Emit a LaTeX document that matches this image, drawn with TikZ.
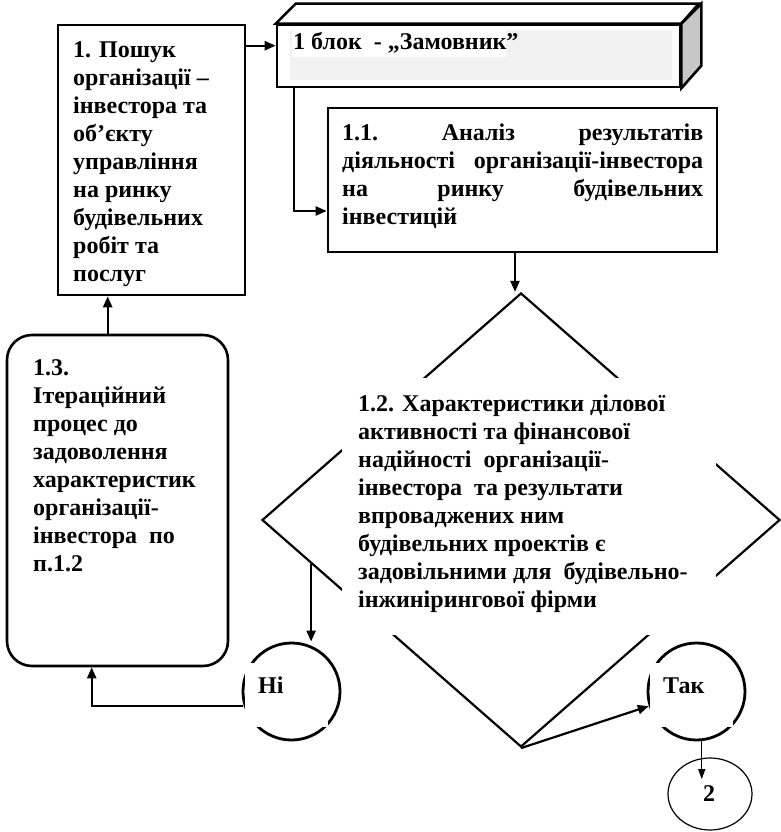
\documentclass[tikz,border=0pt]{standalone}
\usepackage{fontspec}
\setmainfont{Liberation Serif}
\usetikzlibrary{arrows.meta,shapes.geometric,calc}
\begin{document}
\begin{tikzpicture}[x=1pt,y=-1pt,
  txt/.style={anchor=north west,inner sep=0pt,align=left,font=\fontsize{24}{28}\selectfont\bfseries},
  boxst/.style={draw,line width=2.6pt,inner sep=0pt,fill=white},
  arr/.style={line width=2.2pt,-{Triangle[length=11pt,width=9pt]}},
  arrthin/.style={line width=1.3pt,-{Triangle[length=10pt,width=7pt]}},
  mask/.style={fill=white,inner sep=0pt},
  ring/.style={draw,circle,line width=2.8pt,minimum size=97pt,inner sep=0pt}
]
\useasboundingbox (0,0) rectangle (781,832);

% Box 1
\node[boxst,minimum width=187pt,minimum height=270pt] (b1) at (151.5,160) {};
\node[txt] (t1) at (73,38) {\strut 1. Пошук\\організації –\\інвестора та\\об’єкту\\управління\\на ринку\\будівельних\\робіт та\\послуг};

% 3D block
\node[boxst,minimum width=403pt,minimum height=62pt] (blk) at (478.5,56) {};
\draw[line width=2.6pt,line join=miter,fill=white] (blk.north west) -- ++(20,-20) -- ++(403,0) -- (blk.north east) -- cycle;
\draw[line width=2.6pt,line join=miter,fill=black!22] (blk.north east) -- ++(20,-20) -- ++(0,62) -- (blk.south east) -- cycle;
\fill[black!5] (290,30) rectangle (672,80);
\fill[white] (292,30) rectangle (506,57);
\node[txt,anchor=base west] (tb) at (293,50) {1 блок\ \ - „Замовник”};

% Box 1.1
\node[boxst,minimum width=389pt,minimum height=144pt] (b11) at (522.5,180) {};
\node[txt,text width=361pt] (t11) at (342,120.5) {\strut\makebox[361pt][l]{1.1.\hfill Аналіз\hfill результатів}\\
\makebox[361pt][l]{діяльності\hfill організації-інвестора}\\
\makebox[361pt][l]{на\hfill ринку\hfill будівельних}\\
інвестицій};

% Diamond
\node[draw,diamond,line width=2.2pt,minimum width=518pt,minimum height=454pt,inner sep=0pt] (dia) at (521,520) {};
\node[mask,minimum width=374pt,minimum height=257pt] (diam) at (529,506.5) {};
\node[txt] (t12) at (358,392) {\strut 1.2. Характеристики ділової\\активності та фінансової\\надійності\ \ організації-\\інвестора\ \ та результати\\впроваджених ним\\будівельних проектів є\\задовільними для\ \ будівельно-\\інжинірингової фірми};

% Box 1.3
\node[boxst,rounded corners=25pt,minimum width=221pt,minimum height=331pt] (b13) at (117.5,500.5) {};
\node[txt] (t13) at (33,355.5) {\strut 1.3.\\Ітераційний\\процес до\\задоволення\\характеристик\\організації-\\інвестора\ \ по\\п.1.2};

% Ni circle
\node[ring] (ni) at (291.5,691.5) {};
\node[mask,minimum width=83pt,minimum height=64pt] (nim) at (286.5,695) {};
\node[txt,anchor=base west] (nit) at (258,693) {Ні};

% Tak circle
\node[ring] (tak) at (696.5,691.5) {};
\node[mask,minimum width=83pt,minimum height=64pt] (takm) at (691.5,695) {};
\node[txt,anchor=base west] (takt) at (663,693) {Так};

% Circle 2
\node[draw,ellipse,line width=1.2pt,minimum width=84pt,minimum height=72pt,inner sep=0pt] (two) at (710,794) {};
\node[txt,anchor=base west] (twot) at (703,801) {2};

% connectors
\coordinate (c1) at ($(b1.north east)+(0,22)$);
\draw[arr] (c1) -- (c1 -| blk.west);
\coordinate (c2) at ($(blk.south west)+(18,0)$);
\coordinate (c3) at ($(b11.west)+(0,31)$);
\draw[arr] (c2) |- (c3);
\coordinate (c4) at ($(b11.south)+(-7.5,0)$);
\draw[arr] (c4) -- (c4 |- dia.north);
\coordinate (c5) at ($(dia.west)!0.193!(dia.south)$);
\draw[arr] (c5) -- (c5 |- ni.north);
\coordinate (c6) at ($(ni.center)+(-48.5,14.5)$);
\coordinate (c7) at ($(b13.south west)+(86,0)$);
\draw[arr] (c6) -| (c7);
\coordinate (c8) at ($(b13.north west)+(102,0)$);
\draw[arr] (c8) -- (c8 |- b1.south);
\draw[arr] (dia.south) -- (tak.197);
\coordinate (c9) at (tak.276);
\draw[arrthin] (c9) -- ($(c9)+(0,38)$);
\end{tikzpicture}
\end{document}
